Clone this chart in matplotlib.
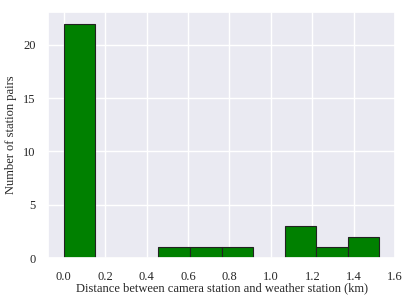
import numpy as np
import matplotlib
matplotlib.use("Agg")
import matplotlib.pyplot as plt
import seaborn as sns

counts = [22, 0, 0, 1, 1, 1, 0, 3, 1, 2]
min_distance = 0.0
max_distance = 1.524
n_bins = 10
xlabel = "Distance between camera station and weather station (km)"
ylabel = "Number of station pairs"

sns.set_theme(style="darkgrid")
plt.rcParams['font.family'] = ['Liberation Serif', 'DejaVu Serif']
plt.rcParams['font.size'] = 9

edges = np.linspace(min_distance, max_distance, n_bins + 1)
centers = (edges[:-1] + edges[1:]) / 2

fig, ax = plt.subplots(figsize=(4.07, 3.05), dpi=100)
ax.hist(centers, bins=edges, weights=counts, color="green", edgecolor="#222222", linewidth=0.8)
ax.set_xlabel(xlabel, fontsize=9, labelpad=0)
ax.set_ylabel(ylabel, fontsize=9, labelpad=4)
ax.tick_params(labelsize=9, pad=3)
ax.set_xticks(np.arange(0, 1.61, 0.2))
ax.set_xticklabels([f"{v:.1f}" for v in np.arange(0, 1.61, 0.2)])
fig.subplots_adjust(left=0.118, right=0.971, top=0.961, bottom=0.154)
fig.savefig("out.png", dpi=100)
